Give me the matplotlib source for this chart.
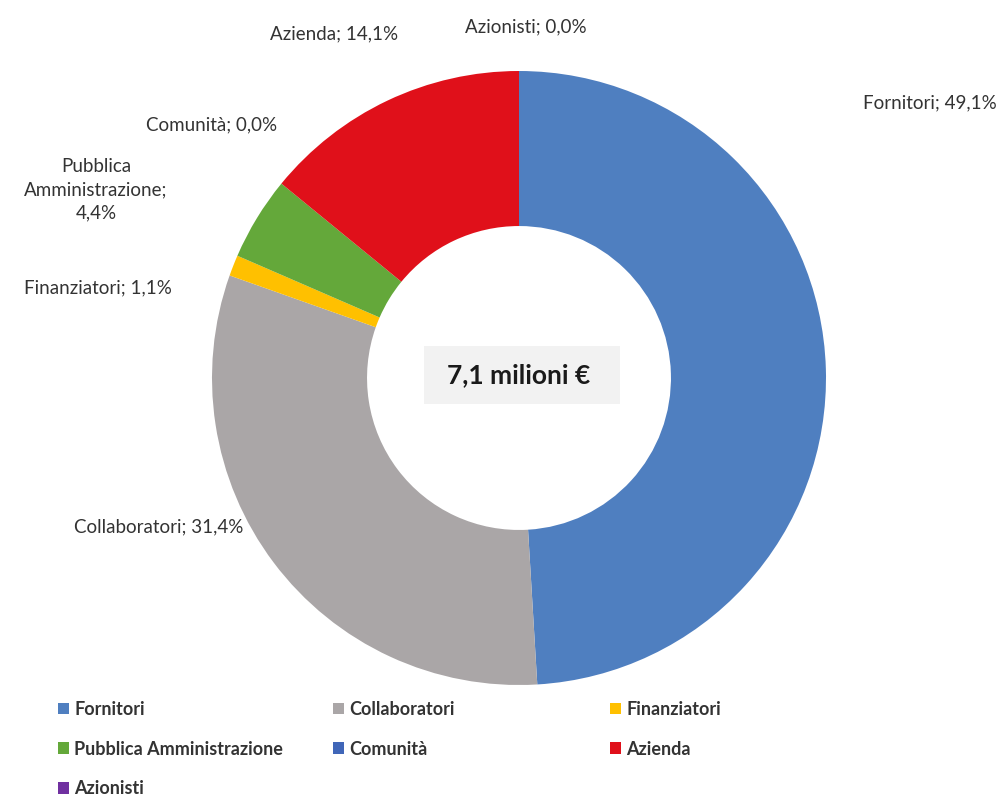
import matplotlib
matplotlib.use("Agg")
import matplotlib.pyplot as plt
from matplotlib.patches import Patch, Rectangle

plt.rcParams['font.family'] = ['Lato', 'DejaVu Sans']

# Distribuzione del valore aggiunto
categories = ["Fornitori", "Collaboratori", "Finanziatori",
              "Pubblica Amministrazione", "Comunità", "Azienda", "Azionisti"]
shares = [49.1, 31.4, 1.1, 4.4, 0.0, 14.1, 0.0]
colors = ["#4f7fc0", "#aaa6a7", "#ffc000", "#64a83a", "#4066b8", "#e0101a", "#7030a0"]
total_label = "7,1 milioni €"

# label text for each slice, with the positions (pixels) where they sit
label_names = ["Fornitori", "Collaboratori", "Finanziatori",
               "Pubblica\nAmministrazione", "Comunità", "Azienda", "Azionisti"]
label_pos = [(930, 103), (159, 527), (98, 288), (96, 190), (212, 125), (334, 34), (526, 27)]

W, H = 1001, 802
fig = plt.figure(figsize=(W / 100, H / 100), dpi=100)

cx, cy, R = 519, 378, 307
ax = fig.add_axes([(cx - R) / W, (H - cy - R) / H, 2 * R / W, 2 * R / H])
ax.pie(shares, colors=colors, startangle=90, counterclock=False, radius=1.0,
       wedgeprops=dict(width=0.505, edgecolor='none'))
ax.set_xlim(-1, 1)
ax.set_ylim(-1, 1)
ax.set_aspect('equal')
ax.axis('off')

# centre box with the total
ax.add_patch(Rectangle((-0.31, -0.085), 0.64, 0.19, facecolor='#f2f2f2',
                       edgecolor='none', zorder=3))
ax.text(0.0, 0.01, total_label, ha='center', va='center', fontsize=19,
        fontweight='bold', color='#1a1a1a', zorder=4)

for name, v, (px, py) in zip(label_names, shares, label_pos):
    sep = "\n" if "\n" in name else " "
    txt = f"{name};{sep}{v:.1f}%".replace('.', ',')
    fig.text(px / W, 1 - py / H, txt, ha='center', va='center', fontsize=13.5,
             color='#333333', linespacing=1.45)

# legend laid out in three columns
handles = [Patch(facecolor=c, edgecolor='none') for c in colors]
columns = [([0, 3, 6], 58), ([1, 4], 333), ([2, 5], 610)]
for idx, x0 in columns:
    leg = fig.legend([handles[i] for i in idx], [categories[i] for i in idx],
                     loc='upper left', bbox_to_anchor=(x0 / W, 1 - 701 / H),
                     frameon=False, fontsize=13, handlelength=0.6, handleheight=0.6,
                     handletextpad=0.3, labelspacing=1.25, borderpad=0,
                     borderaxespad=0)
    for t in leg.get_texts():
        t.set_fontweight('bold')
        t.set_color('#333333')

fig.savefig("out.png", dpi=100, facecolor='white')
